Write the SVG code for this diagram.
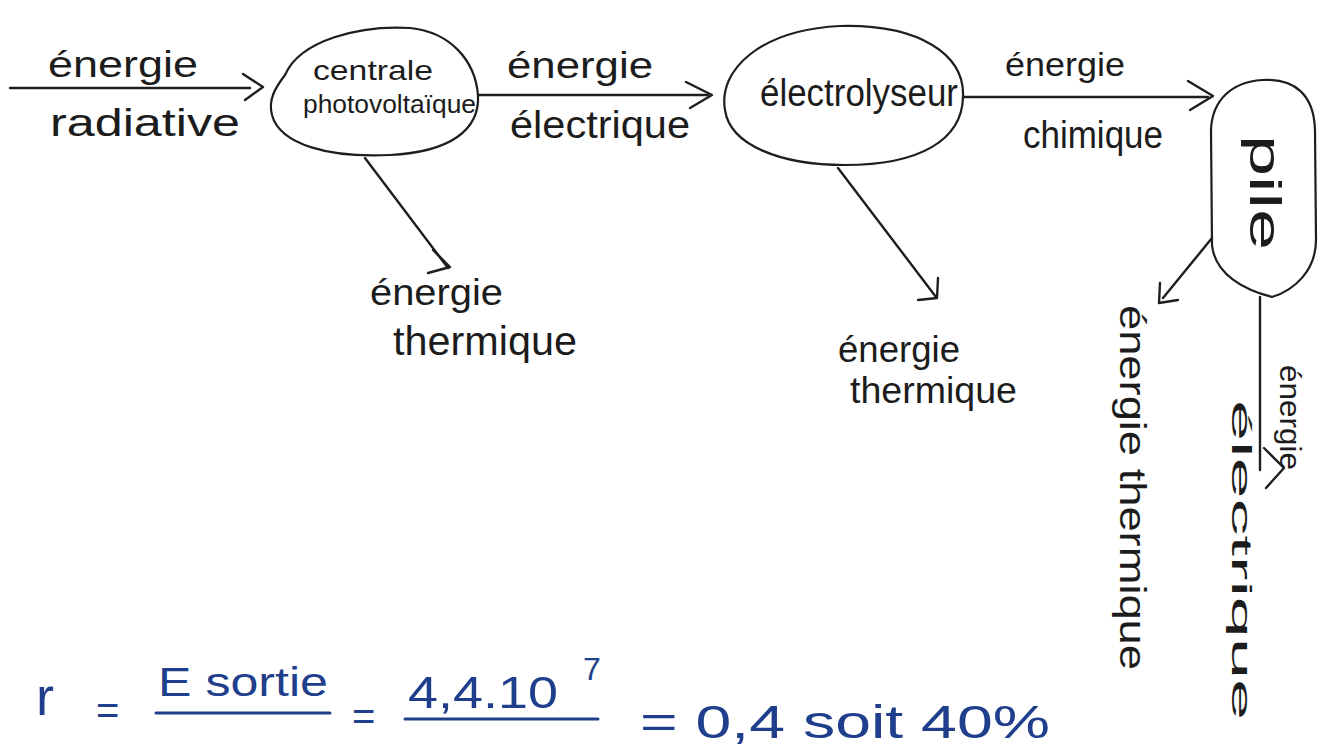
<svg xmlns="http://www.w3.org/2000/svg" width="1319" height="746" viewBox="0 0 1319 746">
<style>
.t{font-family:"Liberation Sans","DejaVu Sans",sans-serif;fill:#1c1c1c}
.f{font-family:"Liberation Sans","DejaVu Sans",sans-serif;fill:#1f3f8c}
.n{fill:none;stroke:#1e1e1e;stroke-width:2.2;stroke-linejoin:round;stroke-linecap:round}
.c{fill:none;stroke:#1e1e1e;stroke-width:2.4;stroke-linejoin:round;stroke-linecap:round}
.b{stroke:#1f3f8c;stroke-width:3;stroke-linecap:round}
</style>
<rect width="1319" height="746" fill="#ffffff"/>
<g id="node-centrale">
<path class="n" d="M285,75 C300,40 360,25 410,28 C450,32 475,60 478,95 C480,130 450,152 390,155 C330,158 280,145 272,115 C268,100 275,88 285,75 Z"/>
<text class="t" x="313" y="80" font-size="28" textLength="120" lengthAdjust="spacingAndGlyphs">centrale</text>
<text class="t" x="303" y="113" font-size="26" textLength="173" lengthAdjust="spacingAndGlyphs">photovoltaïque</text>
</g>
<g id="node-electrolyseur">
<path class="n" d="M725,110 C718,70 760,30 840,26 C920,24 965,55 963,97 C962,140 920,165 845,165 C780,165 730,145 725,110 Z"/>
<text class="t" x="760" y="106" font-size="38" textLength="198" lengthAdjust="spacingAndGlyphs">électrolyseur</text>
</g>
<g id="node-pile">
<path class="n" d="M1262,80 C1295,78 1314,95 1315,130 L1316,240 C1316,270 1295,290 1272,297 C1245,290 1215,275 1212,245 L1211,130 C1212,100 1232,82 1262,80 Z"/>
<text class="t" transform="translate(1250,135) rotate(90)" font-size="44" textLength="115" lengthAdjust="spacingAndGlyphs">pile</text>
</g>
<g id="connectors">
<line class="c" x1="10" y1="88" x2="250" y2="88"/>
<path class="c" d="M243,74 L263,87 L245,100"/>
<line class="c" x1="478" y1="95" x2="708" y2="95"/>
<path class="c" d="M686,82 L712,95 L690,108"/>
<line class="c" x1="963" y1="97" x2="1208" y2="97"/>
<path class="c" d="M1188,81 L1213,96 L1190,110"/>
<line class="c" x1="365" y1="158" x2="448" y2="268"/>
<path class="c" d="M433,250 L450,267 L428,273"/>
<line class="c" x1="838" y1="168" x2="936" y2="297"/>
<path class="c" d="M938,278 L937,298 L918,300"/>
<line class="c" x1="1212" y1="238" x2="1163" y2="298"/>
<path class="c" d="M1160,283 L1159,303 L1178,300"/>
<line class="c" x1="1260" y1="297" x2="1260" y2="470"/>
<path class="c" d="M1264,448 L1284,468 L1266,488"/>
</g>
<g id="labels">
<text class="t" x="48" y="77" font-size="36" textLength="150" lengthAdjust="spacingAndGlyphs">énergie</text>
<text class="t" x="50" y="136" font-size="38" textLength="190" lengthAdjust="spacingAndGlyphs">radiative</text>
<text class="t" x="507" y="78" font-size="36" textLength="146" lengthAdjust="spacingAndGlyphs">énergie</text>
<text class="t" x="510" y="138" font-size="38" textLength="180" lengthAdjust="spacingAndGlyphs">électrique</text>
<text class="t" x="1005" y="76" font-size="34" textLength="120" lengthAdjust="spacingAndGlyphs">énergie</text>
<text class="t" x="1023" y="148" font-size="38" textLength="140" lengthAdjust="spacingAndGlyphs">chimique</text>
<text class="t" x="370" y="305" font-size="36" textLength="133" lengthAdjust="spacingAndGlyphs">énergie</text>
<text class="t" x="393" y="355" font-size="40" textLength="184" lengthAdjust="spacingAndGlyphs">thermique</text>
<text class="t" x="838" y="362" font-size="36" textLength="122" lengthAdjust="spacingAndGlyphs">énergie</text>
<text class="t" x="850" y="403" font-size="36" textLength="167" lengthAdjust="spacingAndGlyphs">thermique</text>
<text class="t" transform="translate(1120,305) rotate(90)" font-size="36" textLength="365" lengthAdjust="spacingAndGlyphs">énergie thermique</text>
<text class="t" transform="translate(1280,365) rotate(90)" font-size="30" textLength="105" lengthAdjust="spacingAndGlyphs">énergie</text>
<text class="t" transform="translate(1232,400) rotate(90)" font-size="28" textLength="320" lengthAdjust="spacingAndGlyphs">électrique</text>
</g>
<g id="formula">
<text class="f" x="36" y="715" font-size="54">r</text>
<text class="f" x="96" y="724" font-size="40">=</text>
<text class="f" x="158" y="696" font-size="40" textLength="170" lengthAdjust="spacingAndGlyphs">E sortie</text>
<line class="b" x1="156" y1="713" x2="330" y2="713"/>
<text class="f" x="352" y="730" font-size="40">=</text>
<text class="f" x="408" y="708" font-size="44" textLength="150" lengthAdjust="spacingAndGlyphs">4,4.10</text>
<text class="f" x="583" y="680" font-size="32">7</text>
<line class="b" x1="405" y1="719" x2="598" y2="719"/>
<text class="f" x="640" y="738" font-size="46" textLength="410" lengthAdjust="spacingAndGlyphs">= 0,4 soit 40%</text>
</g>
</svg>
